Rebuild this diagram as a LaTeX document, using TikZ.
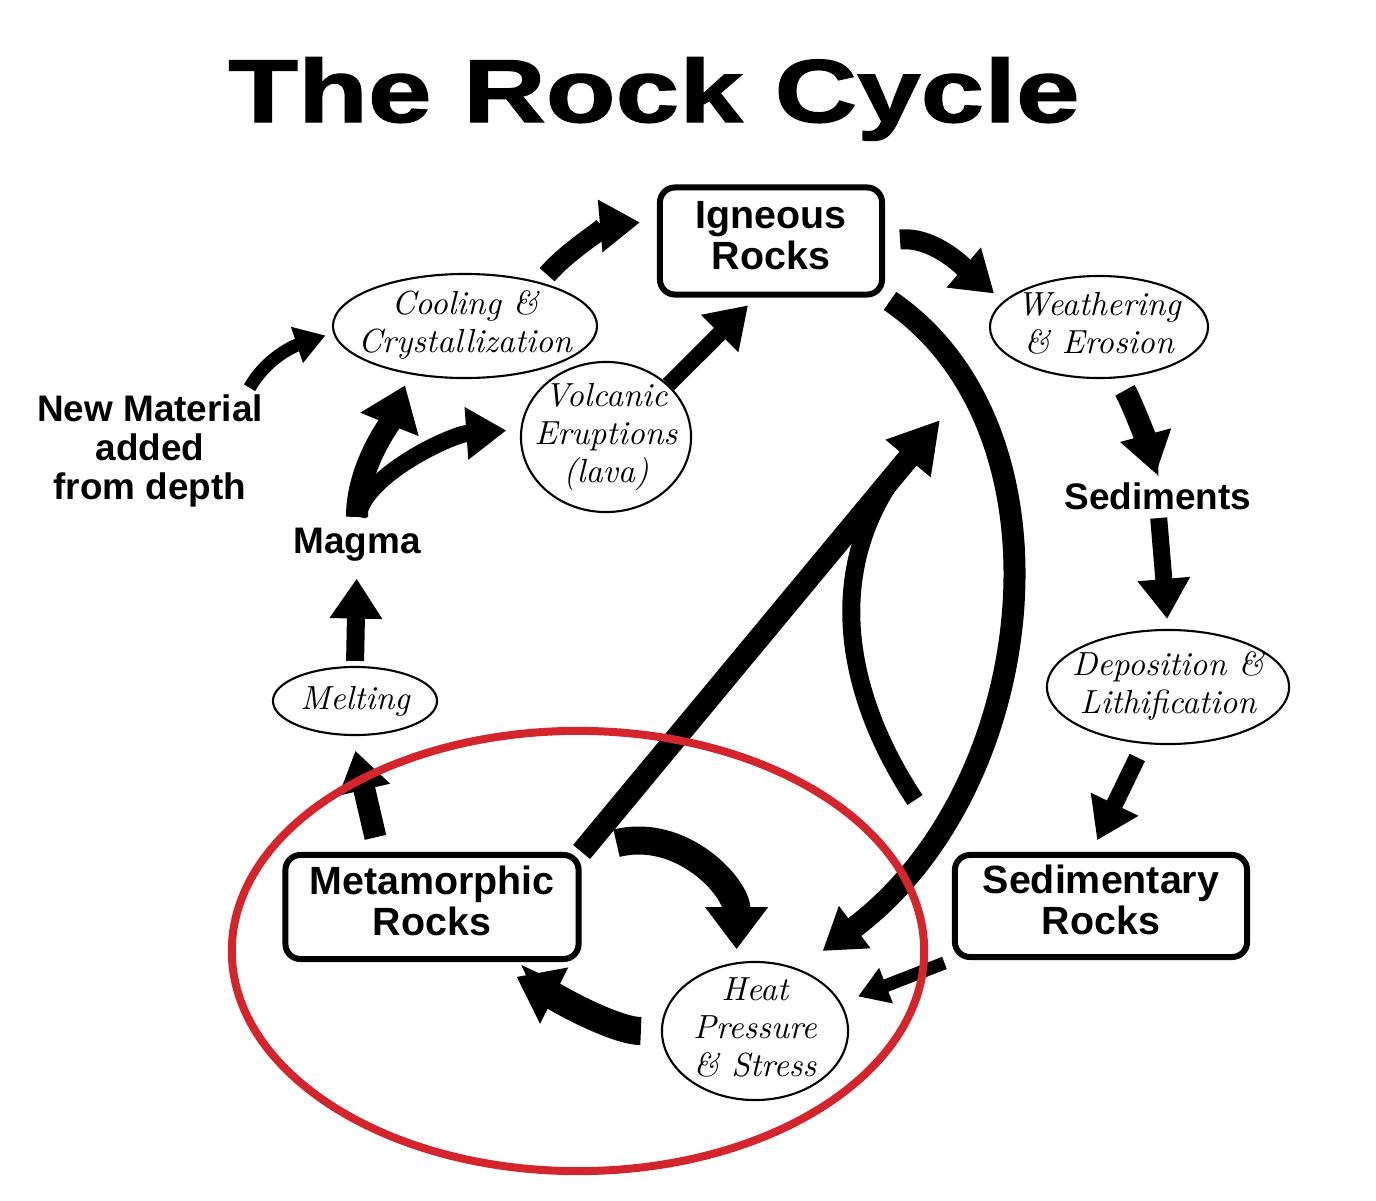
\documentclass[tikz,border=0pt]{standalone}
\usepackage{fontspec}
\usepackage{tikz}
\usetikzlibrary{arrows.meta,shapes.geometric,calc}
\newfontfamily\labelfont{Liberation Sans}
\newfontfamily\titlefont[FakeStretch=1.28,FakeBold=1.5]{Liberation Sans}
\definecolor{rcred}{RGB}{212,36,44}
\tikzstyle{rockbox} = [rectangle, rounded corners=0.15cm, draw, line width=0.06cm, inner sep=0pt, font=\labelfont\bfseries\fontsize{11.2}{11.6}\selectfont]
\tikzstyle{stage} = [ellipse, draw, line width=0.6pt, inner sep=0pt]
\tikzstyle{stagetext} = [inner sep=0pt, font=\itshape\fontsize{9.5}{10.8}\selectfont]
\tikzstyle{tag} = [inner sep=0pt, font=\labelfont\bfseries\fontsize{10.5}{11.1}\selectfont]
\tikzstyle{flow} = [line width=0.2cm, -{Triangle[length=0.4cm,width=0.5cm]}]
\tikzstyle{slimflow} = [line width=0.13cm, -{Triangle[length=0.3cm,width=0.36cm]}]
\tikzstyle{fatflow} = [line width=0.28cm, -{Triangle[length=0.42cm,width=0.6cm]}]

\begin{document}
\begin{tikzpicture}[x=0.01cm, y=-0.01cm]
\useasboundingbox (0,0) rectangle (1376,1200);
% Title
\node[font=\titlefont\bfseries\fontsize{25.4}{30}\selectfont, anchor=base, inner sep=0pt] (title) at (654,122) {The Rock Cycle};

% Rock types
\node (ign) [rockbox, minimum width=2.22cm, minimum height=1.07cm] at (771,241) {\begin{tabular}{@{}c@{}}Igneous\\Rocks\end{tabular}};
\node (meta) [rockbox, minimum width=2.93cm, minimum height=1.04cm] at (432,907) {\begin{tabular}{@{}c@{}}Metamorphic\\Rocks\end{tabular}};
\node (sed) [rockbox, minimum width=2.92cm, minimum height=1.02cm] at (1101,906) {\begin{tabular}{@{}c@{}}Sedimentary\\Rocks\end{tabular}};

% Processes
\node (cool) [stage, minimum width=2.64cm, minimum height=1.04cm, label={[stagetext]center:\begin{tabular}{@{}c@{}}Cooling \&\\Crystallization\end{tabular}}] at (465,326) {};
\node (volc) [stage, minimum width=1.70cm, minimum height=1.50cm, label={[stagetext]center:\begin{tabular}{@{}c@{}}Volcanic\\Eruptions\\(lava)\end{tabular}}] at (606,437) {};
\node (weath) [stage, minimum width=2.18cm, minimum height=1.02cm, label={[stagetext]center:\begin{tabular}{@{}c@{}}Weathering\\\& Erosion\end{tabular}}] at (1099,327) {};
\node (depo) [stage, minimum width=2.42cm, minimum height=1.14cm, label={[stagetext]center:\begin{tabular}{@{}c@{}}Deposition \&\\Lithification\end{tabular}}] at (1168,687) {};
\node (melt) [stage, minimum width=1.64cm, minimum height=0.68cm, label={[stagetext]center:Melting}] at (355,701) {};
\node (heat) [stage, minimum width=1.86cm, minimum height=1.38cm, label={[stagetext]center:\begin{tabular}{@{}c@{}}Heat\\Pressure\\\& Stress\end{tabular}}] at (755,1031) {};

% Plain labels
\node (magma) [tag, anchor=base] at (357,553) {Magma};
\node (sedi) [tag, anchor=base] at (1158,509) {Sediments};
\node (newmat) [tag] at (150,453) {\begin{tabular}{@{}c@{}}New Material\\added\\from depth\end{tabular}};

% Cycle arrows
\coordinate (rise) at (940,420);
\coordinate (loopfoot) at (915,800);
\draw[slimflow, shorten >=0.08cm] ($(newmat.north east)+(-14,-6)$) .. controls +(20,-35) and +(-30,10) .. (cool.183);
\draw[flow, shorten <=0.1cm, shorten >=0.17cm] (cool.30) .. controls +(30,-35) and +(-45,4) .. (ign.170);
\draw[flow, line width=0.16cm, shorten >=0.11cm] (volc.40) -- (ign.255);
\draw[fatflow, line width=0.22cm, shorten <=0.1cm, shorten >=0.12cm] (magma.north) .. controls +(0,-60) and +(-20,50) .. (cool.221);
\draw[flow, line width=0.17cm, shorten <=0.1cm, shorten >=0.14cm] (magma.north) .. controls +(5,-50) and +(-70,5) .. (volc.175);
\draw[flow, line width=0.18cm, shorten <=0.05cm, shorten >=0.17cm] (melt.north) -- (magma.south);
\draw[flow, line width=0.22cm, shorten <=0.15cm, shorten >=0.15cm] (meta.134) -- (melt.265);
\draw[flow, shorten <=0.15cm, shorten >=0.12cm] (ign.east) .. controls +(50,-5) and +(-35,-30) .. (weath.165);
\draw[flow, line width=0.22cm, shorten <=0.14cm, shorten >=0.08cm] (weath.290) .. controls +(15,25) and +(-8,-30) .. (sedi.north);
\draw[flow, line width=0.17cm, shorten <=0.08cm, shorten >=0.1cm] (sedi.south) -- (depo.north);
\draw[flow, line width=0.17cm, shorten <=0.15cm, shorten >=0.13cm] (depo.247) -- (sed.100);
\draw[slimflow, shorten <=0.08cm, shorten >=0.18cm] (sed.south west) -- (heat.18);
\draw[fatflow, shorten <=0.2cm, shorten >=0.33cm] (heat.west) .. controls +(-50,0) and +(50,25) .. (meta.315);
\draw[fatflow, shorten <=0.36cm, shorten >=0.13cm] (meta.north east) .. controls +(100,-25) and +(0,-75) .. (heat.105);
\draw[flow, line width=0.22cm, -{Triangle[length=0.5cm,width=0.55cm]}] (meta.north east) -- (rise);
\draw[line width=0.18cm, shorten >=0.45cm] (loopfoot) .. controls +(-60,-90) and +(-130,153) .. (rise);
\draw[flow, line width=0.22cm, shorten <=0.06cm, shorten >=0.3cm] (ign.south east) .. controls +(195,133) and +(242,-180) .. (heat.55);

% Highlight
\node (focus) [ellipse, draw=rcred, line width=0.08cm, minimum width=6.92cm, minimum height=4.40cm, inner sep=0pt] at (578,951) {};
\end{tikzpicture}
\end{document}
